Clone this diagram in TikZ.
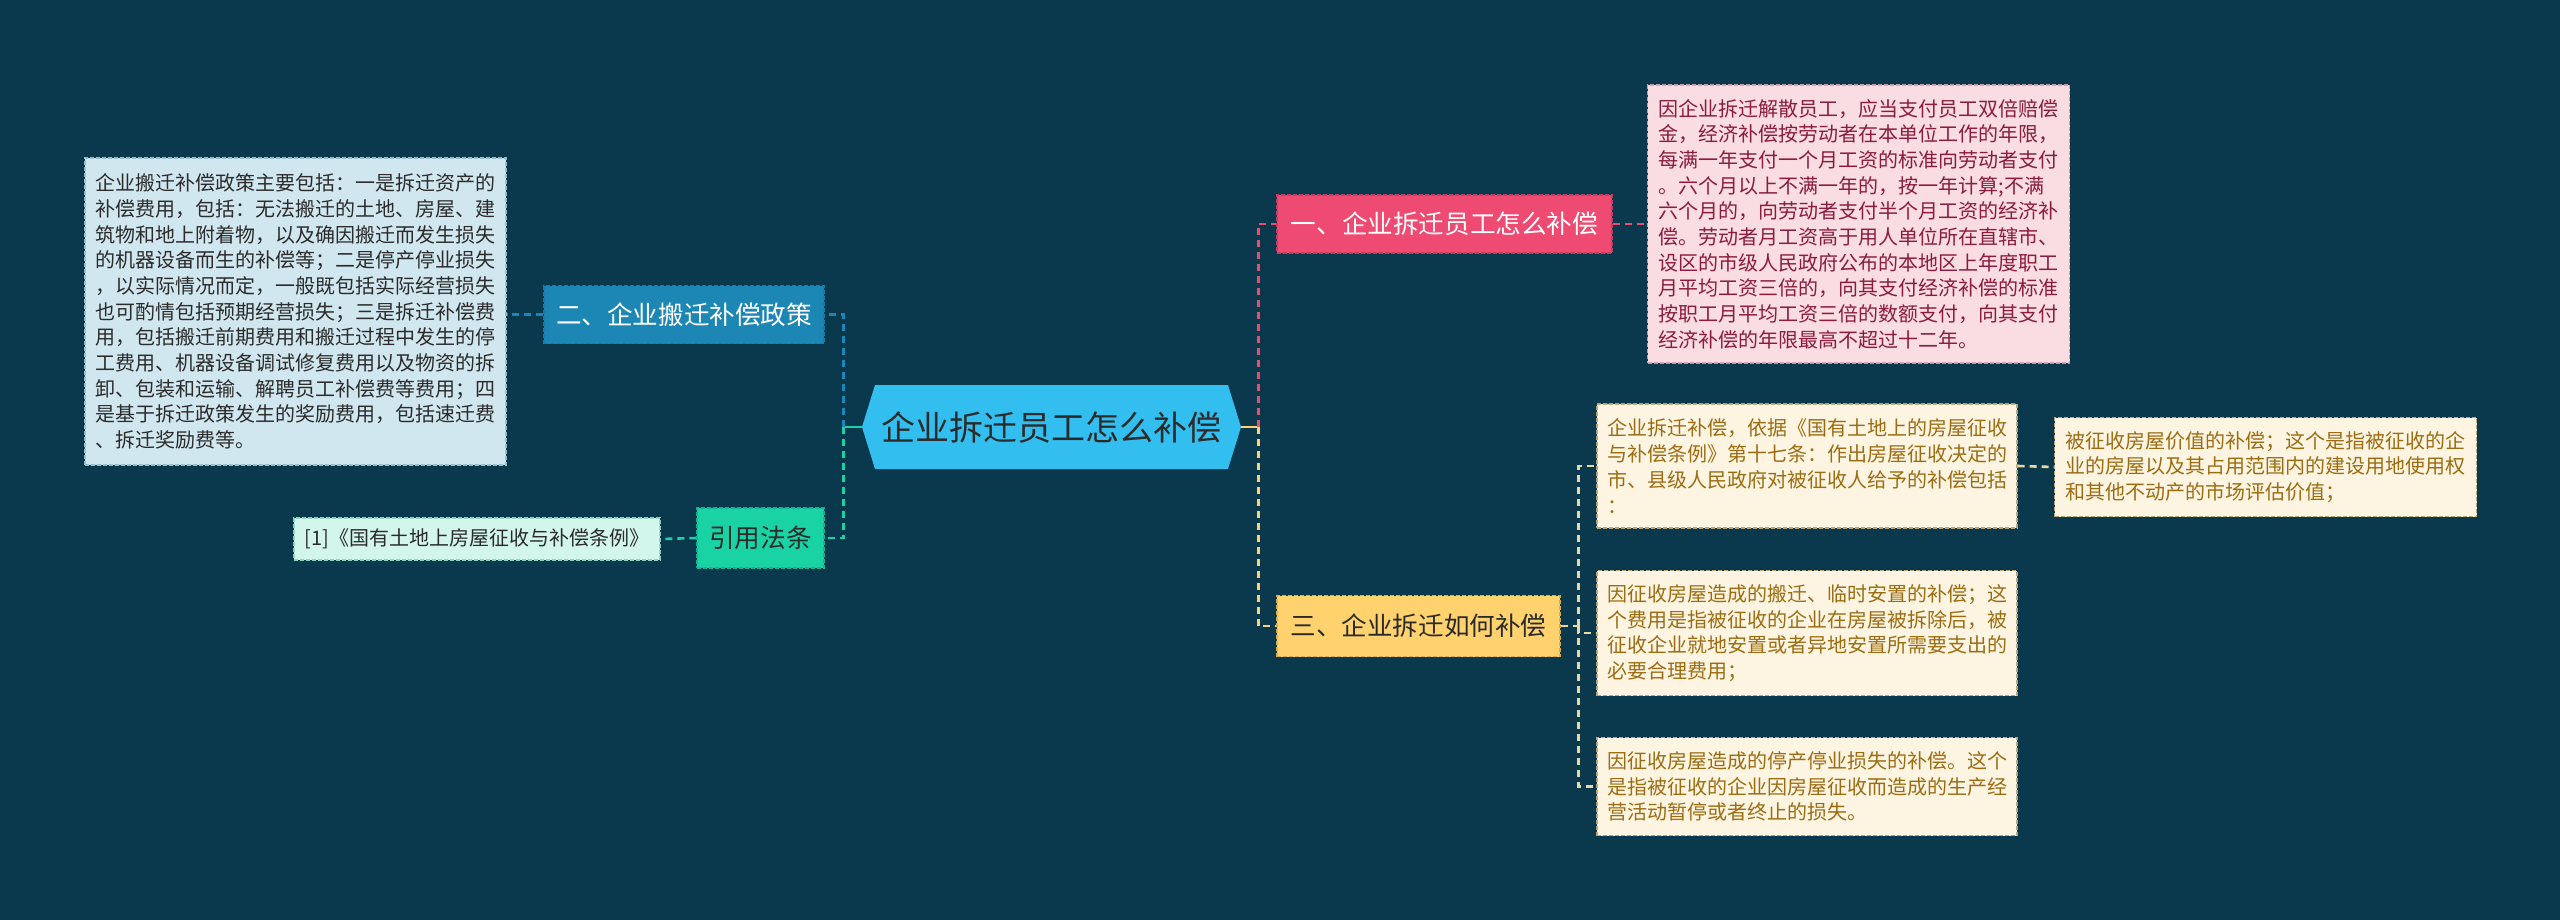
\documentclass[tikz,border=0pt]{standalone}
\usepackage{fontspec}
\setmainfont{Noto Sans CJK SC}
\definecolor{bgcol}{HTML}{0A394D}
\definecolor{rootfill}{HTML}{33BEF0}
\definecolor{darkink}{HTML}{2B2B2B}
\definecolor{bluefill}{HTML}{1C87B4}
\definecolor{blueline}{HTML}{1A7BA6}
\definecolor{greenfill}{HTML}{1AD3A5}
\definecolor{greenline}{HTML}{14B48C}
\definecolor{pinkfill}{HTML}{EE4A72}
\definecolor{pinkline}{HTML}{C93A60}
\definecolor{yellowfill}{HTML}{FFD26E}
\definecolor{yellowline}{HTML}{D9AC4C}
\definecolor{paleline}{HTML}{E9D9A0}
\definecolor{policyfill}{HTML}{D1E7EF}
\definecolor{policyline}{HTML}{98BCCB}
\definecolor{citefill}{HTML}{D3F6EC}
\definecolor{citeline}{HTML}{8ED3C0}
\definecolor{staffill}{HTML}{FADCE3}
\definecolor{staffline}{HTML}{C9A0AE}
\definecolor{staffink}{HTML}{8B1C3C}
\definecolor{lawfill}{HTML}{FDF5E1}
\definecolor{lawline}{HTML}{B8A678}
\definecolor{lawink}{HTML}{9C6C12}

\begin{document}
\begin{tikzpicture}[x=0.5pt,y=-0.5pt,
  root/.style={minimum width=189.5pt, minimum height=42pt, inner sep=0pt,
    font=\fontsize{17pt}{20pt}\selectfont, text=darkink,
    path picture={\fill[rootfill] (path picture bounding box.west)
      -- ([xshift=6.5pt]path picture bounding box.north west)
      -- ([xshift=-6.5pt]path picture bounding box.north east)
      -- (path picture bounding box.east)
      -- ([xshift=-6.5pt]path picture bounding box.south east)
      -- ([xshift=6.5pt]path picture bounding box.south west) -- cycle;}},
  topic/.style={minimum height=29pt, inner sep=0pt,
    font=\fontsize{12.8pt}{15pt}\selectfont, line width=0.6pt, dash pattern=on 2pt off 1pt},
  note/.style={minimum width=210.5pt, inner sep=0pt, align=left,
    font=\fontsize{10pt}{12.85pt}\selectfont, line width=0.6pt, dash pattern=on 2pt off 1pt},
  link/.style={line width=1.3pt, dash pattern=on 3.5pt off 2.5pt},
  stem/.style={line width=1.3pt}]
\fill[bgcol] (0,0) rectangle (2560,920);

\node[root] (root) at (1051.5,427) {企业拆迁员工怎么补偿};

\node[topic, fill=bluefill, draw=blueline, text=white, minimum width=140pt] (policy) at (684,314.5) {二、企业搬迁补偿政策};
\node[topic, fill=greenfill, draw=greenline, text=darkink, minimum width=63.5pt, minimum height=30pt] (cite) at (760.5,538) {引用法条};
\node[topic, fill=pinkfill, draw=pinkline, text=white, minimum width=167.5pt] (staff) at (1444.5,224) {一、企业拆迁员工怎么补偿};
\node[topic, fill=yellowfill, draw=yellowline, text=darkink, minimum width=141.5pt, minimum height=30.5pt] (howto) at (1418.5,626) {三、企业拆迁如何补偿};

\node[note, fill=policyfill, draw=policyline, text=darkink, minimum height=153.5pt] (policynote) at (295.5,311.5) {企业搬迁补偿政策主要包括：一是拆迁资产的\\补偿费用，包括：无法搬迁的土地、房屋、建\\筑物和地上附着物，以及确因搬迁而发生损失\\的机器设备而生的补偿等；二是停产停业损失\\，以实际情况而定，一般既包括实际经营损失\\也可酌情包括预期经营损失；三是拆迁补偿费\\用，包括搬迁前期费用和搬迁过程中发生的停\\工费用、机器设备调试修复费用以及物资的拆\\卸、包装和运输、解聘员工补偿费等费用；四\\是基于拆迁政策发生的奖励费用，包括速迁费\\、拆迁奖励费等。};
\node[note, fill=citefill, draw=citeline, text=darkink, minimum width=183pt, minimum height=21pt] (citenote) at (477,539) {[1]《国有土地上房屋征收与补偿条例》};
\node[note, fill=staffill, draw=staffline, text=staffink, minimum width=211pt, minimum height=139pt] (staffnote) at (1858.5,224) {因企业拆迁解散员工，应当支付员工双倍赔偿\\金，经济补偿按劳动者在本单位工作的年限，\\每满一年支付一个月工资的标准向劳动者支付\\。六个月以上不满一年的，按一年计算;不满\\六个月的，向劳动者支付半个月工资的经济补\\偿。劳动者月工资高于用人单位所在直辖市、\\设区的市级人民政府公布的本地区上年度职工\\月平均工资三倍的，向其支付经济补偿的标准\\按职工月平均工资三倍的数额支付，向其支付\\经济补偿的年限最高不超过十二年。};
\node[note, fill=lawfill, draw=lawline, text=lawink, minimum width=210pt, minimum height=62pt] (lawnote) at (1807,466) {企业拆迁补偿，依据《国有土地上的房屋征收\\与补偿条例》第十七条：作出房屋征收决定的\\市、县级人民政府对被征收人给予的补偿包括\\：};
\node[note, fill=lawfill, draw=lawline, text=lawink, minimum width=210pt, minimum height=62.5pt] (movenote) at (1807,633) {因征收房屋造成的搬迁、临时安置的补偿；这\\个费用是指被征收的企业在房屋被拆除后，被\\征收企业就地安置或者异地安置所需要支出的\\必要合理费用；};
\node[note, fill=lawfill, draw=lawline, text=lawink, minimum width=210pt, minimum height=49pt] (stopnote) at (1807,786.5) {因征收房屋造成的停产停业损失的补偿。这个\\是指被征收的企业因房屋征收而造成的生产经\\营活动暂停或者终止的损失。};
\node[note, fill=lawfill, draw=lawline, text=lawink, minimum width=211pt, minimum height=49.5pt] (valuenote) at (2265.5,467) {被征收房屋价值的补偿；这个是指被征收的企\\业的房屋以及其占用范围内的建设用地使用权\\和其他不动产的市场评估价值；};

\coordinate (lj) at ([xshift=-9pt]root.west);
\coordinate (rj) at ([xshift=8.5pt]root.east);
\coordinate (hj) at ([xshift=9pt]howto.east);

\draw[stem, greenfill] (root.west) -- (lj);
\draw[link, bluefill] (lj) |- (policy.east);
\draw[link, greenfill] (lj) |- (cite.east);
\draw[stem, yellowfill] (root.east) -- (rj);
\draw[link, pinkfill] (rj) |- (staff.west);
\draw[link, yellowfill] (rj) |- (howto.west);

\draw[link, bluefill] (policy.west) -- (policy.west -| policynote.east);
\draw[link, greenfill] (cite.west) -- (citenote.east);
\draw[link, pinkfill] (staff.east) -- (staffnote.west);
\draw[link, paleline] (howto.east) -- (hj);
\draw[link, paleline] (hj) |- (lawnote.west);
\draw[link, paleline] (hj) |- (movenote.west);
\draw[link, paleline] (hj) |- (stopnote.west);
\draw[link, paleline] (lawnote.east) -- (valuenote.west);
\end{tikzpicture}
\end{document}
